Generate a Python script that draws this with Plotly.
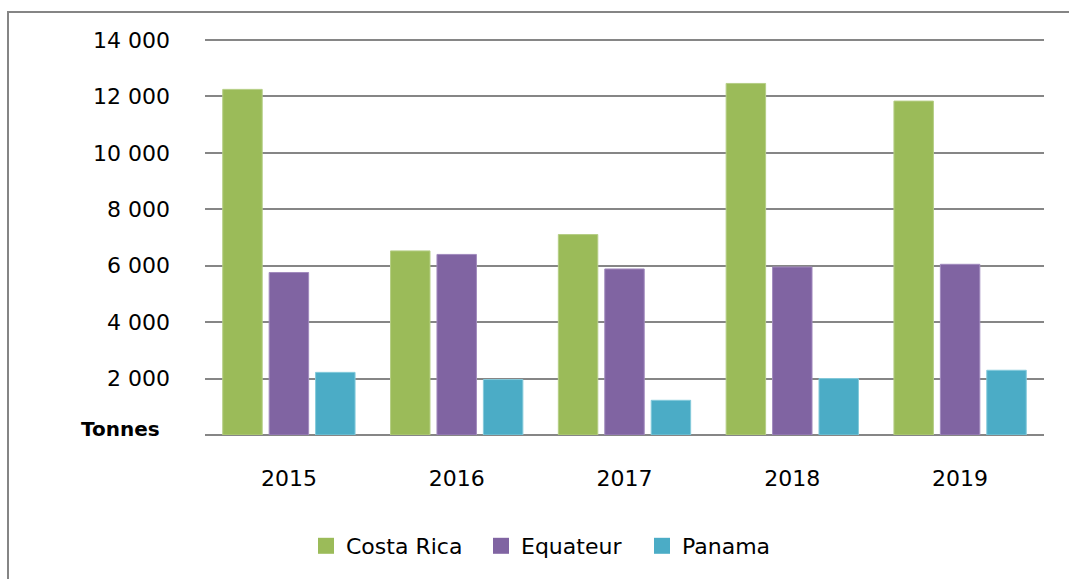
import plotly.graph_objects as go

# Annual volumes (tonnes) per supplier country
years = ["2015", "2016", "2017", "2018", "2019"]
costa_rica = [12250, 6525, 7105, 12460, 11835]
equateur = [5760, 6400, 5885, 5955, 6050]
panama = [2220, 1965, 1230, 2000, 2295]

y_ticks = [0, 2000, 4000, 6000, 8000, 10000, 12000, 14000]
y_tick_text = ["", "2 000", "4 000", "6 000", "8 000", "10 000", "12 000", "14 000"]

series = [
    ("Costa Rica", costa_rica, "#9BBB59", "#B5CE85"),
    ("Equateur", equateur, "#8064A2", "#A28BBE"),
    ("Panama", panama, "#4BACC6", "#84CADB"),
]

FONT = "DejaVu Sans"

W, H = 1069, 579
PAD = 5  # headroom above the top gridline, px
L, R, T, B = 205, 25, 40 - PAD, 144
pw, ph = W - L - R, H - T - B
y_top = 14000 * ph / (ph - PAD)

# legend anchor (left edge, px) for each series
legend_left = [306, 481, 642]
legend_keys = ["legend", "legend2", "legend3"]

fig = go.Figure()
for (name, vals, color, edge), key in zip(series, legend_keys):
    fig.add_trace(go.Bar(
        x=years, y=vals, name=name, showlegend=False,
        marker=dict(color=color, line=dict(color=edge, width=1)),
    ))
    # square legend swatch
    fig.add_trace(go.Scatter(
        x=[years[0]], y=[None], name=name, mode="markers", legend=key,
        marker=dict(symbol="square", size=16, color=color),
        showlegend=True, hoverinfo="skip",
    ))

legend_style = dict(
    orientation="h", xref="container", yref="container",
    yanchor="middle", xanchor="left", y=(H - 546) / H,
    font=dict(family=FONT, size=22, color="#000000"),
    itemwidth=30, bgcolor="rgba(0,0,0,0)",
)
legends = {key: dict(legend_style, x=lx / W) for key, lx in zip(legend_keys, legend_left)}

fig.update_layout(
    width=W, height=H,
    margin=dict(l=L, r=R, t=T, b=B),
    paper_bgcolor="white", plot_bgcolor="white",
    barmode="group", bargap=0.17, bargroupgap=0.15,
    font=dict(family=FONT, size=22, color="#000000"),
    showlegend=True,
    xaxis=dict(
        showgrid=False, showline=False, ticks="",
        tickfont=dict(family=FONT, size=22),
        ticklabelstandoff=28,
    ),
    yaxis=dict(
        range=[0, y_top], tickvals=y_ticks, ticktext=y_tick_text,
        showgrid=True, gridcolor="#868686", gridwidth=1.5,
        zeroline=True, zerolinecolor="#868686", zerolinewidth=2,
        showline=False, ticks="",
        tickfont=dict(family=FONT, size=22),
        ticklabelstandoff=34,
    ),
    shapes=[dict(
        type="rect", xref="paper", yref="paper",
        x0=(8 - L) / pw, x1=1.2, y0=-0.6, y1=(H - B - 12) / ph,
        line=dict(color="#858585", width=2), fillcolor="rgba(0,0,0,0)",
        layer="below",
    )],
    annotations=[dict(
        text="<b>Tonnes</b>", xref="paper", yref="paper",
        x=(162 - L) / pw, y=(H - B - 429) / ph,
        xanchor="right", yanchor="middle", showarrow=False,
        font=dict(family=FONT, size=20, color="#000000"),
    )],
    **legends,
)

fig.write_html("out.html")
